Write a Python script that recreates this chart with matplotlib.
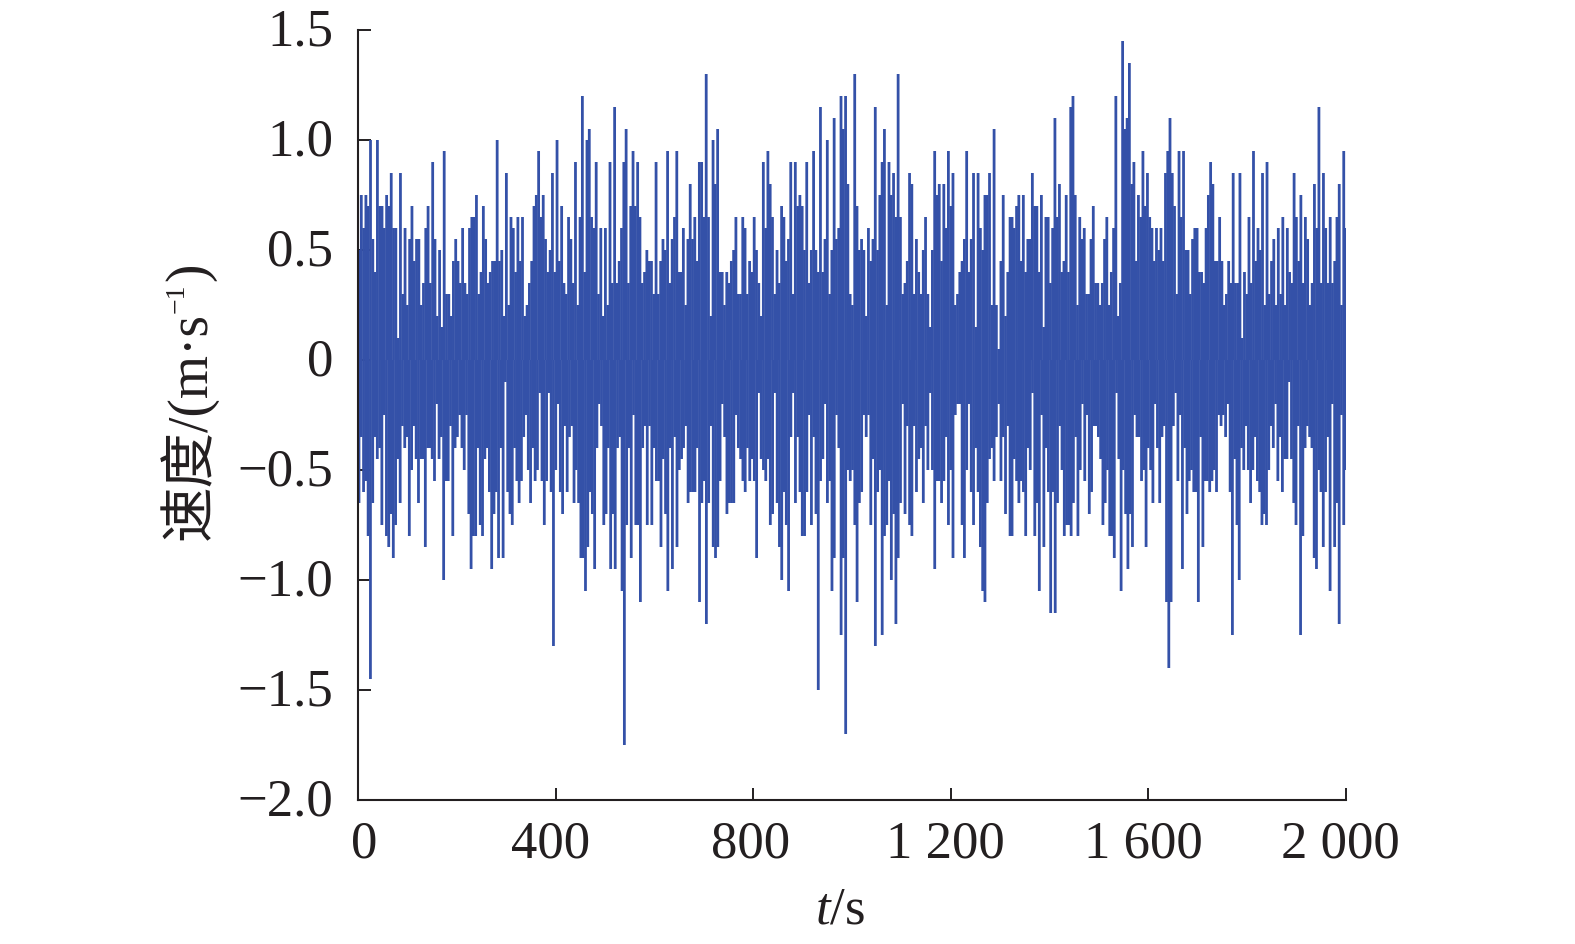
import numpy as np
import matplotlib
matplotlib.use("Agg")
import matplotlib.pyplot as plt
from matplotlib.transforms import ScaledTranslation

plt.rcParams['font.family'] = ['Liberation Serif', 'Noto Sans CJK SC', 'DejaVu Sans']
plt.rcParams['mathtext.fontset'] = 'custom'
plt.rcParams['mathtext.it'] = 'Liberation Serif:italic'
plt.rcParams['mathtext.rm'] = 'Liberation Serif'

# upper edge of the signal, in three stretches
upper_a = [
    .5,.75,.6,.75,.7,1.0,.55,.4,1.0,.7,.7,.6,.75,.7,.85,.6,.6,.1,.85,.3,.6,.25,.55,.7,.45,.55,.55,.25,.35,.6,
    .7,.35,.9,.55,.2,.5,.15,.95,.3,.3,.2,.45,.55,.45,.35,.6,.35,.3,.6,.65,.65,.75,.3,.4,.7,.55,.35,.4,.45,.45,
    1.0,.45,.5,.2,.85,.25,.65,.6,.4,.65,.45,.65,.2,.25,.35,.45,.7,.75,.95,.65,.75,.55,.4,.5,.85,.4,1.0,.45,.7,.35,
    .3,.65,.55,.35,.9,.25,.65,1.2,.4,1.0,1.05,.65,.6,.9,.3,.6,.2,.6,.25,.9,.35,1.15,.35,.45,.6,.9,1.05,.35,.7,.95,
    .7,.9,.65,.35,.4,.5,.45,.45,.3,.9,.3,.45,.55,.5,.95,.35,.55,.65,.95,.4,
]
upper_b = [
    .4,.6,.25,.55,.8,.55,.65,.45,.9,.9,.65,1.3,.65,.2,1.0,.8,1.05,.4,.4,.25,.4,.35,.45,.5,.65,.3,.3,.65,.6,.3,
    .45,.4,.65,.5,.35,.2,.9,.6,.95,.8,.65,.3,.5,.35,.7,.65,.45,.55,.9,.3,.9,.7,.75,.7,.5,.9,.35,.5,.95,.5,
    .4,1.15,.4,.55,1.0,.3,.5,1.1,.55,.6,1.2,1.05,1.2,.8,.3,.25,1.3,.7,.5,.55,.5,.2,.6,.45,.55,1.15,.5,.75,.9,1.05,
    .25,.9,.75,.85,.65,1.3,.65,.3,.35,.45,.85,.8,.3,.55,.4,.3,.5,.65,.3,.15,.5,.95,.75,.8,.45,.8,.6,.95,.7,.85,
    .25,.3,.4,.45,.55,.95,.4,.55,.85,.15,.85,.6,.5,.75,.75,.85,.25,1.05,.25,.05,.45,.75,.2,.4,.65,
]
upper_c = [
    .65,.6,.7,.75,.45,.75,.4,.55,.55,.85,.7,.7,.4,.75,.15,.65,.65,.35,.6,1.1,.65,.8,.4,.45,.75,.4,1.15,1.2,.75,.25,
    .65,.55,.6,.3,.3,.55,.7,.35,.35,.25,.35,.55,.65,.25,.4,.6,1.2,.2,.35,1.45,1.05,1.1,1.35,.8,.9,.45,.75,.65,.95,.7,
    .85,.65,.6,.45,.6,.5,.6,.45,.85,.95,1.1,.85,.7,.3,.95,.65,.95,.5,.5,.3,.55,.6,.6,.4,.4,.35,.6,.75,.9,.8,
    .45,.45,.65,.45,.25,.3,.45,.35,.85,.35,.35,.85,.1,.4,.3,.65,.35,.95,.45,.6,.5,.85,.25,.9,.3,.45,.55,.25,.6,.3,
    .65,.25,.6,.4,.35,.85,.65,.45,.75,.35,.65,.55,.25,.35,.8,.6,1.15,.35,.85,.6,.35,.65,.35,.45,.65,.8,.25,.95,.6,
]

# lower edge of the signal, read the same way
lower_a = [
    -.65,-.35,-.6,-.55,-.8,-1.45,-.65,-.35,-.45,-.4,-.75,-.25,-.8,-.85,-.7,-.9,-.75,-.45,-.65,-.3,-.4,-.35,-.8,-.5,-.3,-.45,-.65,-.45,-.45,-.85,
    -.4,-.4,-.45,-.55,-.2,-.45,-.35,-1.0,-.55,-.55,-.3,-.8,-.4,-.35,-.25,-.4,-.5,-.25,-.7,-.95,-.8,-.8,-.4,-.75,-.8,-.45,-.4,-.6,-.95,-.7,
    -.6,-.9,-.4,-.9,-.1,-.6,-.7,-.75,-.4,-.55,-.65,-.55,-.35,-.25,-.5,-.65,-.4,-.55,-.5,-.15,-.55,-.75,-.55,-.15,-.6,-1.3,-.5,-.2,-.6,-.7,
    -.3,-.6,-.35,-.3,-.65,-.5,-.65,-.9,-.9,-1.05,-.85,-.6,-.7,-.95,-.4,-.2,-.3,-.75,-.7,-.4,-.95,-.7,-.95,-.4,-.35,-1.05,-1.75,-.75,-.4,-.9,
    -.25,-.75,-.75,-1.1,-.4,-.3,-.75,-.3,-.75,-.4,-.55,-.55,-.85,-.45,-.7,-1.05,-.4,-.95,-.35,-.85,-.5,-.45,
]
lower_b = [
    -.4,-.3,-.65,-.6,-.6,-.6,-.4,-1.1,-.65,-.55,-1.2,-.65,-.3,-.85,-.9,-.85,-.55,-.2,-.35,-.7,-.65,-.65,-.65,-.25,-.4,-.45,-.55,-.6,-.4,-.55,
    -.45,-.55,-.9,-.15,-.45,-.5,-.55,-.45,-.75,-.7,-.15,-.65,-.85,-1.0,-.6,-.75,-1.05,-.35,-.15,-.65,-.35,-.6,-.8,-.8,-.6,-.25,-.75,-.35,-.7,-1.5,
    -.55,-.45,-.2,-.65,-.55,-1.05,-.9,-.25,-.4,-1.25,-.9,-1.7,-.5,-.55,-.5,-.75,-1.1,-.65,-.6,-.25,-.35,-.25,-.75,-.45,-1.3,-.6,-.5,-1.25,-.8,-.75,
    -.55,-1.0,-.7,-1.2,-.9,-.65,-.2,-.7,-.3,-.75,-.8,-.3,-.6,-.45,-.4,-.65,-.3,-.5,-.15,-.5,-.95,-.55,-.55,-.65,-.55,-.35,-.75,-.5,-.9,-.25,
    -.2,-.2,-.75,-.9,-.5,-.2,-.6,-.75,-.4,-.6,-.85,-1.05,-1.1,-.65,-.45,-.4,-.55,-.35,-.2,-.55,-.35,-.7,-.3,-.8,
]
lower_c = [
    -.8,-.45,-.55,-.65,-.55,-.6,-.8,-.4,-.5,-.15,-.8,-.65,-1.05,-.25,-.85,-.4,-.6,-1.15,-.6,-1.15,-.65,-.3,-.5,-.8,-.75,-.75,-.8,-.65,-.35,-.8,
    -.5,-.2,-.55,-.25,-.7,-.6,-.3,-.3,-.35,-.45,-.75,-.65,-.5,-.8,-.8,-.9,-.15,-.45,-1.05,-.5,-.7,-.95,-.7,-.85,-.25,-.35,-.35,-.55,-.5,-.85,
    -.4,-.5,-.65,-.2,-.4,-.65,-.35,-.3,-1.1,-1.4,-1.1,-.3,-.15,-.55,-.25,-.95,-.4,-.7,-.55,-.5,-.6,-.6,-1.1,-.35,-.85,-.55,-.55,-.6,-.55,-.5,
    -.6,-.25,-.3,-.25,-.35,-.2,-.6,-1.25,-.45,-.75,-1.0,-.4,-.5,-.3,-.5,-.65,-.5,-.35,-.55,-.6,-.75,-.7,-.75,-.5,-.3,-.4,-.2,-.55,-.35,-.6,
    -.45,-.45,-.1,-.45,-.65,-.75,-.3,-1.25,-.8,-.4,-.3,-.35,-.4,-.9,-.95,-.5,-.6,-.85,-.6,-.35,-1.05,-.2,-.85,-.65,-1.2,-.25,-.75,-.5,
]

# time spans of the three stretches, in seconds
upper_spans = [(2, 650), (654, 1320), (1324, 2000)]
lower_spans = [(2, 655), (659, 1320), (1324, 2000)]

x_ticks = [0, 400, 800, 1200, 1600, 2000]
x_labels = ["0", "400", "800", "1 200", "1 600", "2 000"]
y_ticks = [-2.0, -1.5, -1.0, -0.5, 0, 0.5, 1.0, 1.5]
y_labels = ["\u22122.0", "\u22121.5", "\u22121.0", "\u22120.5", "0", "0.5", "1.0", "1.5"]

blue = "#3451a8"
ink = "#231f20"
W, H = 1575, 944


def spread(parts, spans):
    return np.concatenate([np.linspace(a, b, len(p)) for p, (a, b) in zip(parts, spans)])


t_up = spread([upper_a, upper_b, upper_c], upper_spans)
t_low = spread([lower_a, lower_b, lower_c], lower_spans)
upper = upper_a + upper_b + upper_c
lower = lower_a + lower_b + lower_c

fig = plt.figure(figsize=(W / 100, H / 100), dpi=100)
ax = fig.add_axes([358 / W, 1 - 800 / H, (1346 - 358) / W, (800 - 30) / H])

# columns from zero out to the edges, they merge into the solid core
up_lines = ax.vlines(t_up, 0, upper, color=blue, lw=2.0)
low_lines = ax.vlines(t_low, lower, 0, color=blue, lw=2.0)
up_lines.set_snap(False)
low_lines.set_snap(False)

ax.set_xlim(0, 2000)
ax.set_ylim(-2.0, 1.5)
ax.spines["top"].set_visible(False)
ax.spines["right"].set_visible(False)
ax.spines["left"].set_linewidth(1.5)
ax.spines["bottom"].set_linewidth(1.5)
ax.spines["left"].set_color(ink)
ax.spines["bottom"].set_color(ink)
ax.spines["left"].set_zorder(5)

ax.set_xticks(x_ticks)
ax.set_xticklabels(x_labels)
ax.set_yticks(y_ticks)
ax.set_yticklabels(y_labels)
ax.tick_params(axis="both", direction="in", length=9, width=1.4, color=ink,
               labelcolor=ink, labelsize=38)
ax.tick_params(axis="x", pad=15)
ax.tick_params(axis="y", pad=18)

# small nudges so the tick labels sit where the reference has them
for label, dx in zip(ax.get_xticklabels(), [6, -5, -3, -5, -5, -6]):
    label.set_transform(label.get_transform() + ScaledTranslation(dx / 100, 0, fig.dpi_scale_trans))
for label in ax.get_yticklabels():
    label.set_transform(label.get_transform() + ScaledTranslation(0, 3 / 100, fig.dpi_scale_trans))

fig.text(840 / W, 1 - 910 / H, r"$\mathit{t}$/s", fontsize=38, color=ink, ha="center", va="center")

# y label is built from pieces so the exponent can sit raised
fig.text(188 / W, 1 - 540 / H, "速度/(m·s", fontsize=40, color=ink, rotation=90, ha="center", va="bottom")
fig.text(177 / W, 1 - 313 / H, "\u22121", fontsize=20, color=ink, rotation=90, ha="center", va="bottom")
fig.text(190 / W, 1 - 281 / H, ")", fontsize=40, color=ink, rotation=90, ha="center", va="bottom")

fig.savefig("out.png", dpi=100)
